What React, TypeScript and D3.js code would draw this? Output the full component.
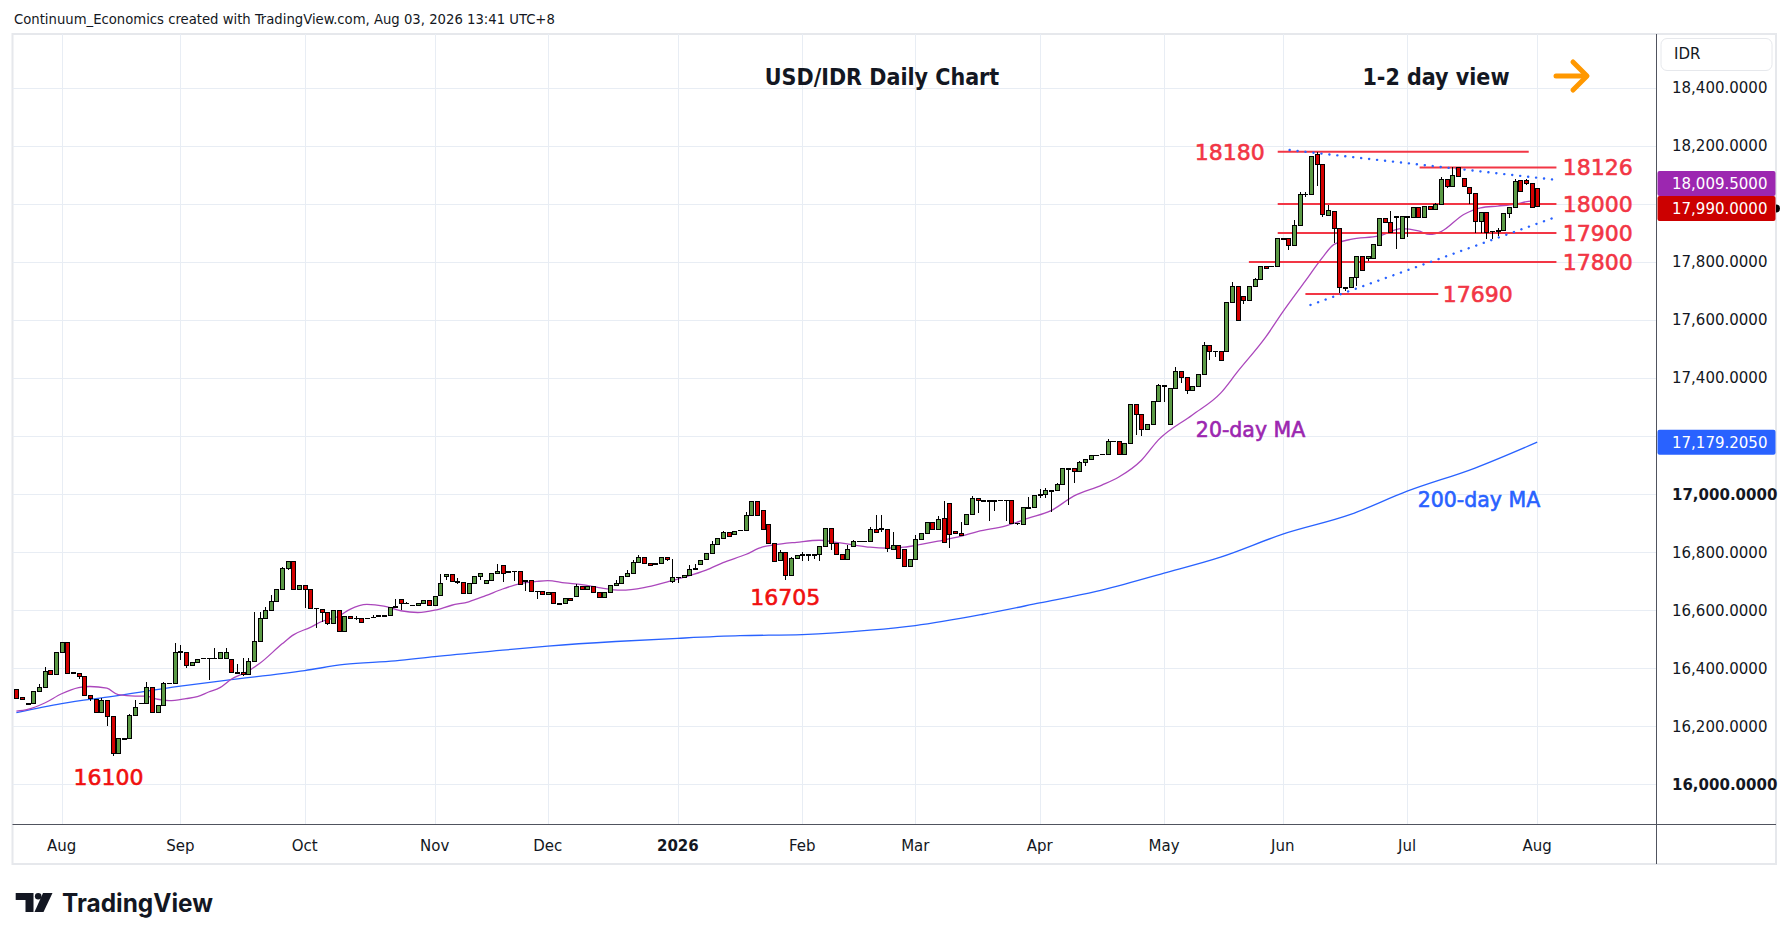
import React from "react";
import * as d3 from "d3";

// daily OHLC, one entry per weekday starting Tue 22 Jul 2025
const opens = [
  16325, 16300, 16275, 16280, 16318, 16335, 16393, 16379, 16453, 16487,
  16385, 16382, 16373, 16306, 16293, 16246, 16290, 16232, 16105, 16157,
  16158, 16237, 16277, 16278, 16335, 16249, 16270, 16349, 16349, 16455,
  16455, 16410, 16418, 16434, 16435, 16435, 16435, 16432, 16431, 16385,
  16386, 16378, 16423, 16492, 16572, 16600, 16631, 16672, 16745, 16769,
  16672, 16685, 16672, 16607, 16604, 16593, 16555, 16600, 16528, 16579,
  16572, 16570, 16572, 16576, 16582, 16582, 16582, 16613, 16637, 16624,
  16617, 16616, 16624, 16635, 16616, 16650, 16716, 16724, 16699, 16696,
  16658, 16692, 16717, 16691, 16702, 16727, 16755, 16733, 16734, 16734,
  16702, 16702, 16665, 16665, 16654, 16662, 16623, 16623, 16641, 16647,
  16682, 16673, 16682, 16660, 16644, 16661, 16684, 16693, 16717, 16727,
  16764, 16782, 16761, 16761, 16761, 16782, 16699, 16714, 16714, 16719,
  16744, 16756, 16776, 16795, 16828, 16847, 16869, 16862, 16876, 16876,
  16928, 16975, 16945, 16894, 16831, 16771, 16798, 16718, 16779, 16791,
  16792, 16792, 16792, 16819, 16882, 16831, 16792, 16776, 16821, 16838,
  16838, 16838, 16879, 16880, 16878, 16810, 16824, 16808, 16752, 16773,
  16842, 16865, 16903, 16879, 16915, 16966, 16872, 16864, 16894, 16929,
  16984, 16977, 16977, 16977, 16979, 16979, 16977, 16900, 16897, 16953,
  16953, 16999, 16999, 17011, 17011, 17032, 17088, 17087, 17077, 17109,
  17119, 17134, 17138, 17138, 17183, 17183, 17138, 17174, 17308, 17276,
  17223, 17241, 17319, 17374, 17241, 17365, 17422, 17401, 17357, 17371,
  17413, 17511, 17493, 17493, 17491, 17662, 17714, 17680, 17668, 17714,
  17739, 17783, 17785, 17783, 17880, 17880, 17857, 17926, 18034, 18034,
  18172, 18135, 17962, 17974, 17915, 17712, 17712, 17746, 17818, 17812,
  17812, 17856, 17949, 17936, 17956, 17880, 17956, 17953, 17987, 17953,
  17991, 17980, 17999, 18085, 18062, 18125, 18087, 18056, 18036, 17939,
  17970, 17906, 17908, 17908, 17967, 17987, 18082, 18082, 18070, 18053,
];
const highs = [
  16325, 16300, 16280, 16318, 16346, 16403, 16393, 16453, 16491, 16487,
  16386, 16382, 16373, 16306, 16293, 16298, 16290, 16232, 16157, 16158,
  16243, 16291, 16280, 16353, 16335, 16270, 16352, 16350, 16487, 16480,
  16455, 16418, 16430, 16435, 16436, 16470, 16455, 16471, 16431, 16415,
  16436, 16436, 16593, 16594, 16612, 16654, 16672, 16748, 16769, 16769,
  16685, 16685, 16672, 16607, 16604, 16593, 16600, 16600, 16579, 16579,
  16579, 16570, 16573, 16584, 16583, 16583, 16610, 16638, 16637, 16628,
  16618, 16624, 16635, 16635, 16647, 16725, 16724, 16724, 16710, 16696,
  16692, 16717, 16728, 16702, 16728, 16760, 16755, 16734, 16735, 16734,
  16703, 16702, 16666, 16665, 16661, 16662, 16624, 16640, 16643, 16690,
  16682, 16682, 16682, 16660, 16660, 16684, 16704, 16717, 16738, 16774,
  16790, 16782, 16761, 16762, 16782, 16782, 16776, 16715, 16719, 16755,
  16759, 16770, 16795, 16839, 16847, 16874, 16869, 16872, 16877, 16938,
  16975, 16975, 16945, 16894, 16831, 16806, 16798, 16785, 16790, 16800,
  16793, 16793, 16819, 16882, 16882, 16831, 16792, 16825, 16842, 16839,
  16839, 16885, 16928, 16928, 16878, 16871, 16824, 16808, 16773, 16859,
  16865, 16903, 16903, 16923, 16976, 16966, 16872, 16903, 16929, 16994,
  16984, 16980, 16978, 16978, 16980, 16980, 16977, 16901, 16953, 16991,
  16994, 17016, 17020, 17012, 17040, 17091, 17089, 17087, 17115, 17119,
  17133, 17136, 17139, 17191, 17184, 17183, 17174, 17308, 17308, 17276,
  17241, 17319, 17379, 17375, 17365, 17439, 17422, 17401, 17371, 17413,
  17523, 17511, 17494, 17493, 17662, 17731, 17714, 17680, 17714, 17745,
  17783, 17783, 17786, 17880, 17881, 17880, 17945, 18042, 18040, 18165,
  18180, 18135, 17995, 17974, 17915, 17713, 17746, 17818, 17818, 17820,
  17861, 17953, 17949, 17975, 17957, 17956, 17957, 17987, 17987, 17991,
  17991, 18005, 18094, 18085, 18126, 18125, 18087, 18056, 18036, 17970,
  17970, 17907, 17918, 17967, 17987, 18087, 18082, 18087, 18070, 18053,
];
const lows = [
  16297, 16291, 16272, 16280, 16318, 16335, 16379, 16379, 16453, 16383,
  16382, 16363, 16306, 16286, 16246, 16246, 16200, 16097, 16105, 16156,
  16158, 16237, 16276, 16278, 16249, 16249, 16270, 16348, 16349, 16430,
  16402, 16410, 16418, 16433, 16361, 16434, 16435, 16432, 16386, 16384,
  16373, 16378, 16423, 16492, 16572, 16600, 16631, 16672, 16739, 16672,
  16668, 16608, 16603, 16540, 16559, 16550, 16555, 16528, 16528, 16572,
  16565, 16559, 16571, 16575, 16581, 16581, 16582, 16612, 16600, 16620,
  16616, 16616, 16624, 16616, 16616, 16650, 16705, 16699, 16690, 16658,
  16658, 16692, 16703, 16691, 16702, 16727, 16696, 16732, 16702, 16689,
  16665, 16665, 16640, 16654, 16654, 16623, 16622, 16623, 16634, 16647,
  16673, 16673, 16661, 16644, 16644, 16661, 16684, 16693, 16717, 16727,
  16764, 16761, 16755, 16760, 16761, 16769, 16692, 16692, 16714, 16719,
  16743, 16756, 16776, 16795, 16828, 16847, 16854, 16862, 16875, 16876,
  16928, 16927, 16878, 16831, 16769, 16771, 16705, 16718, 16779, 16770,
  16769, 16777, 16768, 16819, 16806, 16792, 16776, 16776, 16821, 16837,
  16837, 16838, 16869, 16871, 16800, 16810, 16779, 16752, 16752, 16773,
  16842, 16865, 16879, 16879, 16832, 16814, 16863, 16856, 16894, 16929,
  16936, 16975, 16907, 16942, 16978, 16909, 16900, 16894, 16897, 16952,
  16953, 16985, 16985, 16939, 17011, 17032, 16962, 17040, 17077, 17097,
  17119, 17133, 17137, 17138, 17178, 17138, 17138, 17174, 17205, 17199,
  17223, 17241, 17319, 17319, 17241, 17365, 17382, 17345, 17357, 17371,
  17413, 17462, 17474, 17459, 17491, 17662, 17599, 17654, 17668, 17714,
  17739, 17776, 17784, 17783, 17879, 17843, 17857, 17926, 18023, 18034,
  18062, 17956, 17962, 17864, 17692, 17700, 17712, 17717, 17772, 17805,
  17812, 17856, 17936, 17903, 17846, 17880, 17887, 17953, 17953, 17953,
  17980, 17980, 17999, 18055, 18062, 18094, 18060, 17999, 17901, 17901,
  17878, 17878, 17890, 17908, 17951, 17987, 18043, 18065, 17987, 17990,
];
const closes = [
  16297, 16291, 16278, 16318, 16335, 16390, 16379, 16453, 16487, 16383,
  16383, 16371, 16306, 16294, 16246, 16290, 16232, 16105, 16157, 16158,
  16237, 16263, 16279, 16335, 16249, 16270, 16349, 16349, 16455, 16456,
  16409, 16418, 16430, 16434, 16435, 16435, 16455, 16455, 16386, 16384,
  16378, 16423, 16492, 16572, 16600, 16631, 16672, 16745, 16769, 16672,
  16685, 16672, 16607, 16606, 16593, 16555, 16600, 16528, 16579, 16572,
  16572, 16559, 16572, 16576, 16582, 16582, 16610, 16613, 16623, 16624,
  16617, 16624, 16635, 16616, 16647, 16692, 16724, 16699, 16699, 16658,
  16692, 16717, 16728, 16702, 16728, 16734, 16727, 16733, 16733, 16689,
  16702, 16665, 16665, 16654, 16661, 16623, 16623, 16640, 16634, 16682,
  16673, 16682, 16661, 16644, 16660, 16684, 16693, 16717, 16727, 16764,
  16782, 16761, 16755, 16761, 16782, 16775, 16713, 16714, 16719, 16741,
  16744, 16770, 16795, 16828, 16847, 16869, 16854, 16872, 16876, 16928,
  16975, 16927, 16878, 16831, 16769, 16798, 16718, 16779, 16790, 16791,
  16792, 16792, 16819, 16882, 16831, 16792, 16776, 16810, 16838, 16838,
  16838, 16879, 16869, 16880, 16811, 16824, 16779, 16752, 16773, 16842,
  16865, 16903, 16879, 16913, 16832, 16860, 16863, 16856, 16929, 16984,
  16977, 16977, 16977, 16977, 16979, 16979, 16900, 16900, 16953, 16953,
  16994, 16999, 17013, 17011, 17032, 17088, 17088, 17077, 17109, 17119,
  17133, 17134, 17138, 17183, 17183, 17138, 17174, 17308, 17276, 17223,
  17241, 17319, 17374, 17374, 17365, 17422, 17401, 17357, 17371, 17413,
  17511, 17491, 17493, 17459, 17662, 17714, 17599, 17668, 17714, 17739,
  17783, 17776, 17785, 17880, 17880, 17857, 17926, 18032, 18034, 18164,
  18135, 17964, 17978, 17915, 17712, 17712, 17746, 17818, 17772, 17820,
  17861, 17949, 17936, 17903, 17956, 17956, 17956, 17987, 17953, 17991,
  17980, 17999, 18085, 18062, 18099, 18094, 18060, 18036, 17939, 17970,
  17901, 17906, 17908, 17967, 17987, 18079, 18043, 18071, 17987, 17990,
];

// moving averages (bar index, value)
const ma20Bars = [
  0, 2, 5, 8, 11, 13, 16, 18, 21, 23, 25, 27, 30, 32, 34, 36, 38, 41, 43, 47,
  49, 52, 54, 57, 59, 62, 65, 68, 71, 74, 77, 80, 83, 86, 89, 92, 94, 97, 100,
  103, 107, 111, 115, 118, 122, 125, 129, 132, 134, 138, 142, 145, 148, 151,
  154, 157, 160, 163, 167, 170, 175, 179, 183, 187, 192, 195, 199, 202, 208,
  213, 216, 221, 224, 228, 231, 233, 236, 241, 245, 248, 250, 252, 256, 259,
  262, 265, 268, 269,
];
const ma20Values = [
  16252, 16258, 16280, 16312, 16333, 16337, 16331, 16309, 16304, 16304, 16293,
  16288, 16295, 16302, 16318, 16333, 16362, 16390, 16416, 16484, 16515, 16541,
  16561, 16579, 16603, 16620, 16614, 16598, 16592, 16600, 16617, 16629, 16650,
  16673, 16691, 16699, 16702, 16694, 16688, 16678, 16669, 16678, 16697, 16713,
  16738, 16764, 16792, 16818, 16825, 16834, 16841, 16834, 16825, 16817, 16814,
  16817, 16827, 16838, 16854, 16871, 16891, 16917, 16943, 16993, 17031, 17059,
  17117, 17187, 17273, 17348, 17422, 17542, 17628, 17735, 17815, 17860, 17878,
  17890, 17915, 17907, 17895, 17905, 17964, 17987, 17993, 17999, 18010, 18009.5,
];
const ma200Bars = [
  0, 8, 17, 29, 37, 51, 58, 67, 74, 86, 94, 106, 117, 128, 139, 151, 159, 171,
  181, 191, 203, 213, 224, 236, 246, 258, 269,
];
const ma200Values = [
  16247, 16278, 16303, 16338, 16358, 16392, 16413, 16425, 16440, 16462, 16476,
  16492, 16503, 16512, 16516, 16531, 16547, 16586, 16625, 16665, 16728, 16783,
  16862, 16930, 17010, 17090, 17179.205,
];

// support / resistance annotations
const levelPrices = [18180, 18126, 18000, 17900, 17800, 17690];
const levelFrom = [223.1, 248.2, 223.1, 223.1, 218, 228];
const levelTo = [267.5, 272.4, 272.4, 272.4, 272.4, 251.5];
const levelLabelAt = [220.8, 273.5, 273.5, 273.5, 273.5, 252.3];

const upperTrend = [
  [225.2, 18186],
  [272.4, 18083],
];
const lowerTrend = [
  [228.9, 17652],
  [272.4, 17956],
];

const priceTicks = [
  16000, 16200, 16400, 16600, 16800, 17000, 17200, 17400, 17600, 17800, 18000,
  18200, 18400,
];

const width = 1790;
const height = 941;
const plot = { left: 12.5, right: 1656.5, top: 34, bottom: 824 };
const frameRight = 1776;
const frameBottom = 864;

const font = "'DejaVu Sans', sans-serif";
const condensed = "'DejaVu Sans Condensed', 'DejaVu Sans', sans-serif";
const red = "#f23645";
const green = "#5b9a45";
const down = "#d40000";

function weekdays(start: Date, n: number) {
  const out: Date[] = [];
  const d = new Date(start);
  while (out.length < n) {
    const wd = d.getDay();
    if (wd !== 0 && wd !== 6) out.push(new Date(d));
    d.setDate(d.getDate() + 1);
  }
  return out;
}

export default function App() {
  const dates = weekdays(new Date(2025, 6, 22), closes.length);

  const x = d3.scaleLinear().domain([-0.69, 290.1]).range([plot.left, plot.right]);
  const y = d3.scaleLinear().domain([15863, 18586]).range([plot.bottom, plot.top]);

  const monthTicks: { i: number; label: string; bold: boolean }[] = [];
  dates.forEach((d, i) => {
    if (i === 0 || d.getMonth() === dates[i - 1].getMonth()) return;
    const jan = d.getMonth() === 0;
    monthTicks.push({
      i,
      label: jan ? String(d.getFullYear()) : d3.timeFormat("%b")(d),
      bold: jan,
    });
  });

  const ma = (bars: number[], vals: number[]) =>
    d3
      .line<number>()
      .x((_, k) => x(bars[k]))
      .y((v) => y(v))
      .curve(d3.curveMonotoneX)(vals) ?? "";

  const fmt = d3.format(",.4f");
  const lastClose = closes[closes.length - 1];
  const lastMa20 = ma20Values[ma20Values.length - 1];
  const lastMa200 = ma200Values[ma200Values.length - 1];
  const closeY = y(lastClose) + 1.5;
  const ma20Y = Math.min(y(lastMa20), closeY - 25);
  const ma200Y = y(lastMa200);
  const boxYs = [closeY, ma20Y, ma200Y];

  const axisBox = (cy: number, fill: string, text: string) => (
    <g>
      <rect x={plot.right + 1} y={cy - 12.5} width={118} height={25} rx={2} fill={fill} />
      <text x={1672} y={cy} dy="0.36em" fill="#fff" fontSize={15} fontFamily={font}>
        {text}
      </text>
    </g>
  );

  // annotation text a touch heavier, like the drawing-tool labels
  const heavy = (color: string) => ({
    fill: color,
    stroke: color,
    strokeWidth: 0.6,
    fontFamily: font,
  });

  return (
    <svg
      width={width}
      height={height}
      style={{ position: "absolute", left: 0, top: 0, background: "#fff" }}
    >
      <rect width={width} height={height} fill="#fff" />

      <text x={14} y={19} dy="0.36em" fontSize={14.7} fontFamily={condensed} fill="#131722">
        Continuum_Economics created with TradingView.com, Aug 03, 2026 13:41 UTC+8
      </text>

      {/* frame */}
      <rect
        x={plot.left}
        y={plot.top}
        width={frameRight - plot.left}
        height={frameBottom - plot.top}
        fill="none"
        stroke="#e6e8ec"
        strokeWidth={2}
      />

      {/* grid */}
      <g stroke="#e8edf4" strokeWidth={1}>
        {priceTicks.map((p) => (
          <line key={p} x1={plot.left} x2={plot.right} y1={Math.round(y(p)) + 0.5} y2={Math.round(y(p)) + 0.5} />
        ))}
        {monthTicks.map((t) => (
          <line key={t.i} x1={Math.round(x(t.i)) + 0.5} x2={Math.round(x(t.i)) + 0.5} y1={plot.top} y2={plot.bottom} />
        ))}
      </g>

      <defs>
        <clipPath id="plotClip">
          <rect x={plot.left} y={plot.top} width={plot.right - plot.left} height={plot.bottom - plot.top} />
        </clipPath>
      </defs>

      <g clipPath="url(#plotClip)">
        {/* moving averages */}
        <path d={ma(ma200Bars, ma200Values)} fill="none" stroke="#2962ff" strokeWidth={1.3} />
        <path d={ma(ma20Bars, ma20Values)} fill="none" stroke="#ab47bc" strokeWidth={1.3} />

        {/* level lines */}
        {levelPrices.map((p, k) => (
          <line
            key={p}
            x1={x(levelFrom[k])}
            x2={x(levelTo[k])}
            y1={y(p)}
            y2={y(p)}
            stroke={red}
            strokeWidth={2}
          />
        ))}

        {/* dotted trend lines */}
        {[upperTrend, lowerTrend].map((tl, k) => (
          <line
            key={k}
            x1={x(tl[0][0])}
            y1={y(tl[0][1])}
            x2={x(tl[1][0])}
            y2={y(tl[1][1])}
            stroke="#2962ff"
            strokeWidth={2.4}
            strokeDasharray="0.1 7.9"
            strokeLinecap="round"
          />
        ))}

        {/* candles */}
        <g shapeRendering="crispEdges">
          {closes.map((c, i) => {
            const o = opens[i];
            const cx = Math.round(x(i));
            const top = y(Math.max(o, c));
            const bot = y(Math.min(o, c));
            return (
              <g key={i}>
                <line x1={cx + 0.5} x2={cx + 0.5} y1={y(highs[i])} y2={y(lows[i])} stroke="#000" strokeWidth={1} />
                <rect
                  x={cx - 1.5}
                  y={top}
                  width={4}
                  height={Math.max(bot - top, 0.6)}
                  fill={c >= o ? green : down}
                  stroke="#000"
                  strokeWidth={1}
                />
              </g>
            );
          })}
        </g>
      </g>

      {/* level labels */}
      {levelPrices.map((p, k) => (
        <text
          key={p}
          x={x(levelLabelAt[k])}
          y={y(p)}
          dy="0.36em"
          textAnchor={k === 0 ? "end" : "start"}
          fontSize={22}
          {...heavy(red)}
        >
          {p}
        </text>
      ))}
      <text x={x(136)} y={y(16645)} dy="0.36em" textAnchor="middle" fontSize={22} {...heavy("#f01010")}>
        16705
      </text>
      <text x={x(16.3)} y={y(16024)} dy="0.36em" textAnchor="middle" fontSize={22} {...heavy("#f01010")}>
        16100
      </text>
      <text x={x(218.3)} y={y(17224)} dy="0.36em" textAnchor="middle" fontSize={20.5} {...heavy("#9c27b0")}>
        20-day MA
      </text>
      <text x={x(258.7)} y={y(16980)} dy="0.36em" textAnchor="middle" fontSize={20.5} {...heavy("#2962ff")}>
        200-day MA
      </text>

      {/* titles */}
      <text x={882} y={77} dy="0.36em" textAnchor="middle" fontSize={23} fontWeight="bold" fontFamily={condensed} fill="#131722">
        USD/IDR Daily Chart
      </text>
      <text x={1436} y={77} dy="0.36em" textAnchor="middle" fontSize={23} fontWeight="bold" fontFamily={condensed} fill="#131722">
        1-2 day view
      </text>
      <g stroke="#ff9800" strokeWidth={5} strokeLinecap="round" strokeLinejoin="round" fill="none">
        <line x1={1556} y1={76} x2={1586} y2={76} />
        <polyline points="1573,62 1587,76 1573,90" />
      </g>

      {/* axis separators */}
      <line x1={plot.right} x2={plot.right} y1={plot.top} y2={frameBottom} stroke="#50535e" strokeWidth={1} />
      <line x1={plot.left} x2={frameRight} y1={plot.bottom + 0.5} y2={plot.bottom + 0.5} stroke="#50535e" strokeWidth={1} />

      {/* price axis; labels under the value boxes are hidden as on the original */}
      {priceTicks
        .filter((p) => boxYs.every((by) => Math.abs(y(p) - by) > 16))
        .map((p) => (
          <text
            key={p}
            x={1672}
            y={y(p)}
            dy="0.36em"
            fontSize={15}
            fontFamily={font}
            fontWeight={p % 1000 === 0 ? "bold" : "normal"}
            fill="#131722"
          >
            {fmt(p)}
          </text>
        ))}
      <rect x={1661} y={38.5} width={111} height={32} rx={6} fill="#fff" stroke="#e6e8ec" />
      <text x={1674} y={54} dy="0.36em" fontSize={15} fontFamily={font} fill="#131722">
        IDR
      </text>
      {axisBox(ma200Y, "#2962ff", fmt(lastMa200))}
      {axisBox(ma20Y, "#9c27b0", fmt(lastMa20))}
      {axisBox(closeY, "#cc0000", fmt(lastClose))}
      <path d={`M1776,${closeY - 4} a4,4 0 0 1 0,8 z`} fill="#000" />

      {/* time axis */}
      {monthTicks.map((t) => (
        <text
          key={t.i}
          x={x(t.i)}
          y={846}
          dy="0.36em"
          textAnchor="middle"
          fontSize={15}
          fontFamily={font}
          fontWeight={t.bold ? "bold" : "normal"}
          fill="#131722"
        >
          {t.label}
        </text>
      ))}

      {/* logo */}
      <g fill="#131722">
        <path d="M15.7,893 H33.5 V912 H25.5 V900 H15.7 Z" />
        <circle cx={38.2} cy={896.3} r={3.3} />
        <path d="M43,893 H52.5 L43.5,912 H34.5 Z" />
        <text x={62} y={912} fontSize={25} fontWeight={700} fontFamily="Inter, sans-serif" textLength={151} lengthAdjust="spacingAndGlyphs">
          TradingView
        </text>
      </g>
    </svg>
  );
}
